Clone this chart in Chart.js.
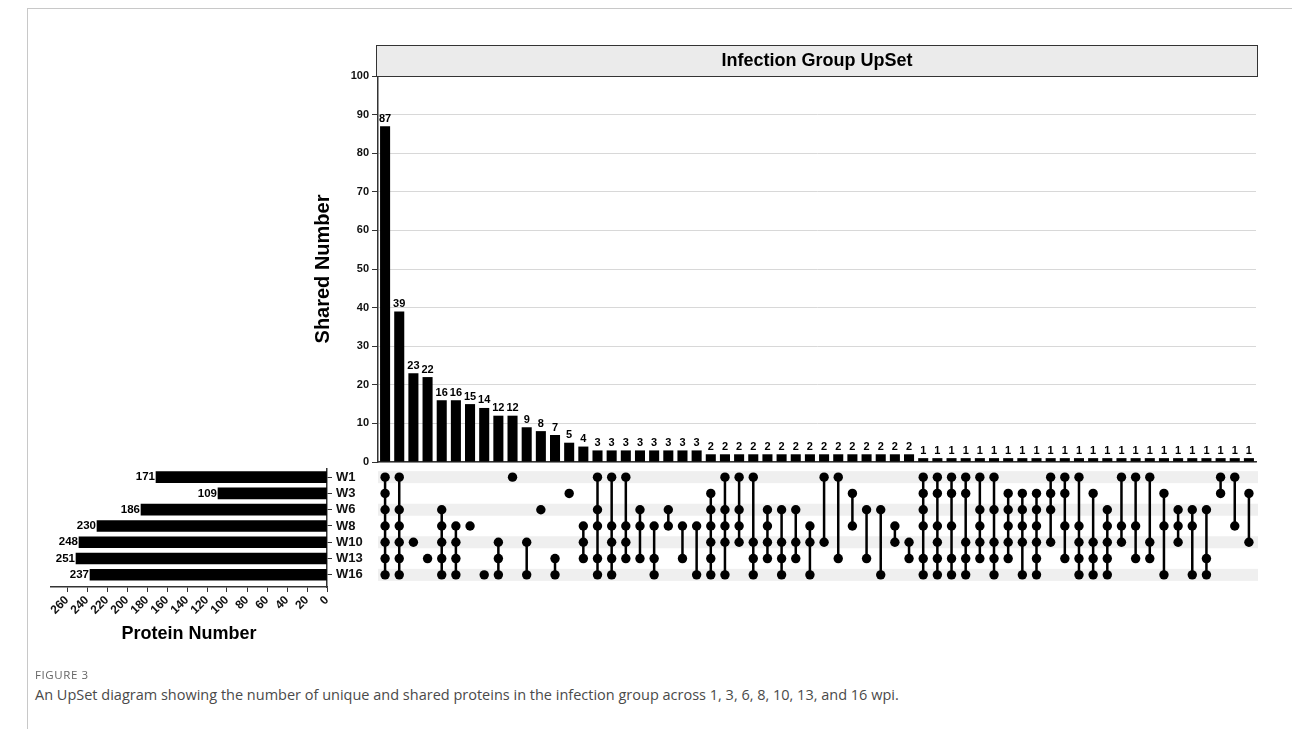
<!DOCTYPE html>
<html>
<head>
<meta charset="utf-8">
<script src="https://cdn.jsdelivr.net/npm/chart.js@4.4.1/dist/chart.umd.min.js"></script>
<style>
  html, body { margin: 0; padding: 0; background: #fff; }
  body { width: 1292px; height: 729px; position: relative; overflow: hidden; font-family: "Liberation Sans", Arial, sans-serif; }
  .frame-top { position: absolute; left: 27px; top: 8px; right: 0; border-top: 1px solid #c8c8c8; }
  .frame-left { position: absolute; left: 27px; top: 8px; bottom: 0; border-left: 1px solid #c8c8c8; }
  canvas { position: absolute; }
  #fig { position: absolute; left: 35px; top: 667px; font: 11.5px "Open Sans", sans-serif; letter-spacing: 0.6px; color: #666; }
  #cap { position: absolute; left: 35px; top: 685px; font: 14.5px "Open Sans", sans-serif; color: #4a4a4a; white-space: nowrap; }
</style>
</head>
<body>
<div class="frame-top"></div>
<div class="frame-left"></div>
<canvas id="upset" width="970" height="440" style="left:300px;top:40px"></canvas>
<canvas id="matrix" width="970" height="130" style="left:300px;top:460px"></canvas>
<canvas id="sizes" width="370" height="200" style="left:20px;top:455px"></canvas>
<div id="fig">FIGURE 3</div>
<div id="cap">An UpSet diagram showing the number of unique and shared proteins in the infection group across 1, 3, 6, 8, 10, 13, and 16 wpi.</div>
<script>
// sets (weeks post infection) and their total protein numbers
const setNames = ["W1", "W3", "W6", "W8", "W10", "W13", "W16"];
const setSizes = [171, 109, 186, 230, 248, 251, 237];
const proteinTicks = [0, 20, 40, 60, 80, 100, 120, 140, 160, 180, 200, 220, 240, 260];

// intersection sizes, in plotted order
const sharedCounts = [
  87, 39, 23, 22, 16, 16, 15, 14, 12, 12, 9, 8, 7, 5, 4,
  3, 3, 3, 3, 3, 3, 3, 3,
  2, 2, 2, 2, 2, 2, 2, 2, 2, 2, 2, 2, 2, 2, 2,
  1, 1, 1, 1, 1, 1, 1, 1, 1, 1, 1, 1, 1, 1, 1, 1, 1, 1, 1, 1, 1, 1, 1, 1
];

// which sets make up each intersection
const sharedSets = [
  ["W1","W3","W6","W8","W10","W13","W16"],
  ["W1","W6","W8","W10","W13","W16"],
  ["W10"],
  ["W13"],
  ["W6","W8","W10","W13","W16"],
  ["W8","W10","W13","W16"],
  ["W8"],
  ["W16"],
  ["W10","W13","W16"],
  ["W1"],
  ["W10","W16"],
  ["W6"],
  ["W13","W16"],
  ["W3"],
  ["W8","W10","W13"],
  ["W1","W6","W8","W13","W16"],
  ["W1","W8","W10","W13","W16"],
  ["W1","W8","W10","W13"],
  ["W6","W8","W13"],
  ["W8","W13","W16"],
  ["W6","W8"],
  ["W8","W13"],
  ["W8","W16"],
  ["W3","W6","W8","W10","W13","W16"],
  ["W1","W6","W8","W10","W16"],
  ["W1","W6","W8","W10"],
  ["W1","W10","W13","W16"],
  ["W6","W8","W10","W13"],
  ["W6","W10","W13","W16"],
  ["W6","W10","W13"],
  ["W8","W10","W16"],
  ["W1","W10"],
  ["W1","W13"],
  ["W3","W8"],
  ["W6","W13"],
  ["W6","W16"],
  ["W8","W10"],
  ["W10","W13"],
  ["W1","W3","W6","W8","W13","W16"],
  ["W1","W3","W8","W10","W13","W16"],
  ["W1","W3","W8","W13","W16"],
  ["W1","W3","W10","W13","W16"],
  ["W1","W6","W8","W10","W13"],
  ["W1","W6","W10","W13","W16"],
  ["W3","W6","W8","W10","W13"],
  ["W3","W6","W8","W10","W16"],
  ["W3","W6","W8","W10","W13","W16"],
  ["W1","W3","W6","W10"],
  ["W1","W3","W8","W13"],
  ["W1","W8","W10","W13","W16"],
  ["W3","W10","W13","W16"],
  ["W6","W8","W10","W13","W16"],
  ["W1","W8","W10"],
  ["W1","W8","W13"],
  ["W1","W10","W13"],
  ["W3","W8","W16"],
  ["W6","W8","W10"],
  ["W6","W8","W16"],
  ["W6","W13","W16"],
  ["W1","W3"],
  ["W1","W8"],
  ["W3","W10"]
];

const FONT = '"Liberation Sans", Arial, sans-serif';
Chart.defaults.font.family = FONT;
Chart.defaults.color = "#111";

const colLabels = sharedCounts.map((_, i) => "I" + (i + 1));

/* upper bars: shared numbers */
const titleBox = {
  id: "titleBox",
  afterDraw(chart) {
    const { ctx, chartArea } = chart;
    const l = chartArea.left - 2, r = chartArea.right + 2, t = chartArea.top - 31;
    ctx.save();
    ctx.fillStyle = "#ebebeb";
    ctx.fillRect(l, t, r - l, 31);
    ctx.strokeStyle = "#333";
    ctx.lineWidth = 1;
    ctx.strokeRect(l + 0.5, t + 0.5, r - l - 1, 31);
    ctx.fillStyle = "#000";
    ctx.font = "bold 18px " + FONT;
    ctx.textAlign = "center";
    ctx.textBaseline = "middle";
    ctx.fillText("Infection Group UpSet", (l + r) / 2, t + 16);
    ctx.restore();
  }
};

const barLabels = {
  id: "barLabels",
  afterDatasetsDraw(chart) {
    const { ctx } = chart;
    const meta = chart.getDatasetMeta(0);
    ctx.save();
    ctx.font = "bold 11px " + FONT;
    ctx.fillStyle = "#000";
    ctx.textAlign = "center";
    ctx.textBaseline = "bottom";
    meta.data.forEach((bar, i) => {
      ctx.fillText(String(sharedCounts[i]), bar.x, bar.y - 2);
    });
    ctx.restore();
  }
};

new Chart(document.getElementById("upset"), {
  type: "bar",
  data: {
    labels: colLabels,
    datasets: [{
      data: sharedCounts,
      backgroundColor: "#000",
      borderWidth: 0,
      barPercentage: 0.71,
      categoryPercentage: 1
    }]
  },
  options: {
    responsive: false,
    animation: false,
    layout: { padding: { top: 36, right: 14, bottom: 18, left: 0 } },
    plugins: { legend: { display: false }, tooltip: { enabled: false } },
    scales: {
      x: {
        grid: { display: false, drawTicks: false },
        ticks: { display: false },
        border: { color: "#333", width: 1.5 },
        afterFit: s => { s.height = 0; }
      },
      y: {
        min: 0,
        max: 100,
        ticks: { stepSize: 10, padding: 3, font: { weight: "bold", size: 11 }, color: "#111" },
        grid: { color: "#d8d8d8", tickColor: "#333", tickLength: 6 },
        border: { color: "#333", width: 1.5 },
        title: {
          display: true,
          text: "Shared Number",
          color: "#000",
          font: { weight: "bold", size: 20 },
          padding: { top: 11, bottom: 0 }
        },
        afterFit: s => { s.width = 78; }
      }
    }
  },
  plugins: [titleBox, barLabels]
});

/* dot matrix */
const dots = [];
const links = [];
sharedSets.forEach((members, i) => {
  const rows = members.map(m => setNames.indexOf(m));
  rows.forEach(r => dots.push({ x: i, y: r }));
  if (rows.length > 1) {
    links.push({ x: i, y: Math.min(...rows) });
    links.push({ x: i, y: Math.max(...rows) });
    links.push({ x: i, y: null });
  }
});

const stripes = {
  id: "stripes",
  beforeDatasetsDraw(chart) {
    const { ctx, chartArea, scales } = chart;
    ctx.save();
    ctx.fillStyle = "#efefef";
    setNames.forEach((_, r) => {
      if (r % 2) return;
      const y = scales.y.getPixelForValue(r);
      ctx.fillRect(chartArea.left, y - 6, chartArea.right - chartArea.left + 2, 12);
    });
    ctx.restore();
  }
};

new Chart(document.getElementById("matrix"), {
  type: "scatter",
  data: {
    datasets: [
      {
        data: dots,
        pointRadius: 4.7,
        pointBackgroundColor: "#000",
        pointBorderWidth: 0,
        showLine: false
      },
      {
        data: links,
        showLine: true,
        spanGaps: false,
        borderColor: "#000",
        borderWidth: 2.5,
        pointRadius: 0
      }
    ]
  },
  options: {
    responsive: false,
    animation: false,
    layout: { padding: { top: 9, right: 14, bottom: 7, left: 78 } },
    plugins: { legend: { display: false }, tooltip: { enabled: false } },
    scales: {
      x: { type: "linear", min: -0.5, max: sharedCounts.length - 0.5, display: false },
      y: { type: "linear", min: -0.5, max: setNames.length - 0.5, reverse: true, display: false }
    }
  },
  plugins: [stripes]
});

/* left bars: set sizes */
const sizeLabels = {
  id: "sizeLabels",
  afterDatasetsDraw(chart) {
    const { ctx } = chart;
    const meta = chart.getDatasetMeta(0);
    ctx.save();
    ctx.font = "bold 11.5px " + FONT;
    ctx.fillStyle = "#000";
    ctx.textAlign = "right";
    ctx.textBaseline = "middle";
    meta.data.forEach((bar, i) => {
      ctx.fillText(String(setSizes[i]), bar.x - 1, bar.y);
    });
    ctx.restore();
  }
};

new Chart(document.getElementById("sizes"), {
  type: "bar",
  data: {
    datasets: [{
      data: setSizes.map((v, i) => ({ x: v, y: i })),
      backgroundColor: "#000",
      borderWidth: 0,
      barThickness: 11
    }]
  },
  options: {
    indexAxis: "y",
    responsive: false,
    animation: false,
    layout: { padding: { top: 14, right: 0, bottom: 0, left: 31 } },
    plugins: { legend: { display: false }, tooltip: { enabled: false } },
    scales: {
      x: {
        type: "linear",
        min: 0,
        max: 276,
        reverse: true,
        afterBuildTicks: s => { s.ticks = proteinTicks.map(v => ({ value: v })); },
        ticks: { autoSkip: false, minRotation: 45, maxRotation: 45, padding: 1, font: { weight: "bold", size: 12 }, color: "#111" },
        grid: { drawOnChartArea: false, tickColor: "#333", tickLength: 5 },
        border: { color: "#333", width: 1.5 },
        title: {
          display: true,
          text: "Protein Number",
          color: "#000",
          font: { weight: "bold", size: 18 },
          padding: { top: 0, bottom: 10 }
        },
        afterFit: s => { s.height = 68; }
      },
      y: {
        type: "linear",
        position: "right",
        offset: false,
        min: -0.5,
        max: 6.75,
        reverse: true,
        afterBuildTicks: s => { s.ticks = setNames.map((_, i) => ({ value: i })); },
        ticks: { autoSkip: false, callback: v => setNames[v], padding: 4, font: { weight: "bold", size: 13 }, color: "#111" },
        grid: { offset: false, drawOnChartArea: false, tickColor: "#333", tickLength: 5 },
        border: { color: "#333", width: 1.5 },
        afterFit: s => { s.width = 63; }
      }
    }
  },
  plugins: [sizeLabels]
});
</script>
</body>
</html>
